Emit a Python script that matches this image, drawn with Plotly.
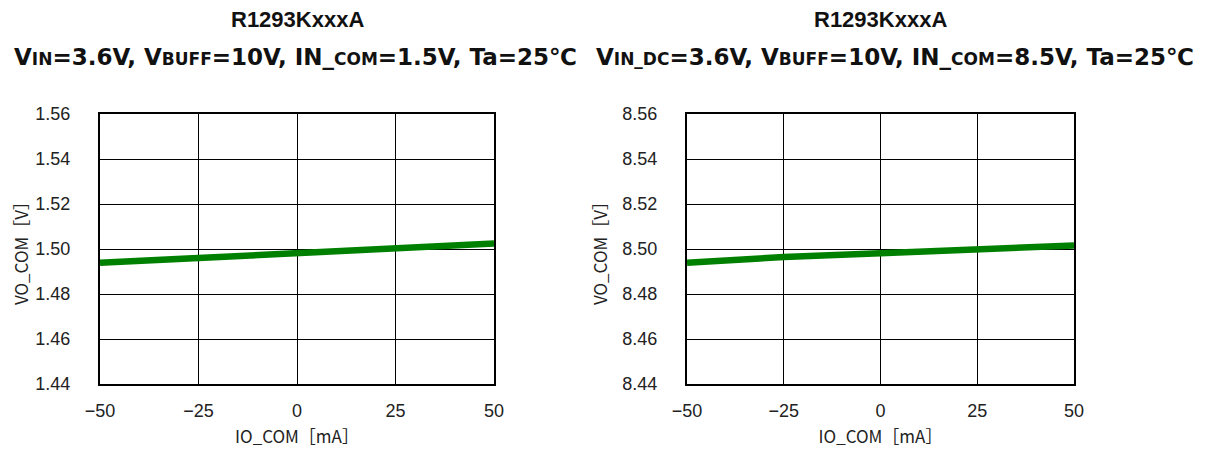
import plotly.graph_objects as go

io_com = [-50, -25, 0, 25, 50]
vo_left = [1.4939, 1.4959, 1.4982, 1.4999, 1.5024]
vo_right = [8.4939, 8.4964, 8.4981, 8.4999, 8.5016]

x_ticks = [-50, -25, 0, 25, 50]
x_ticktext = ["\u221250", "\u221225", "0", "25", "50"]
y_left_ticks = [1.44, 1.46, 1.48, 1.50, 1.52, 1.54, 1.56]
y_right_ticks = [8.44, 8.46, 8.48, 8.50, 8.52, 8.54, 8.56]

title_main = "R1293KxxxA"
S = "<span style='font-size:17px'>{}</span>"
title_left = "V" + S.format("IN") + "=3.6V, V" + S.format("BUFF") + "=10V, IN_" + S.format("COM") + "=1.5V, Ta=25\u2103"
title_right = "V" + S.format("IN_DC") + "=3.6V, V" + S.format("BUFF") + "=10V, IN_" + S.format("COM") + "=8.5V, Ta=25\u2103"
x_title = "IO_COM\uff3bmA\uff3d"
y_title = "VO_COM\uff3bV\uff3d"

OFF = 8  # page body margin
W, H = 1211 - 2 * OFF, 456 - 2 * OFF


def px(v):
    return (v - OFF) / W


def py(v):
    return 1 - (v - OFF) / H


fig = go.Figure()
fig.add_trace(go.Scatter(x=io_com, y=vo_left, mode="lines", line=dict(color="#008000", width=6.5),
                         xaxis="x", yaxis="y", showlegend=False))
fig.add_trace(go.Scatter(x=io_com, y=vo_right, mode="lines", line=dict(color="#008000", width=6.5),
                         xaxis="x2", yaxis="y2", showlegend=False))

ydom = [py(384), py(114)]
tickfont = dict(family="Liberation Sans, Arial", size=18, color="#222")
titlefont = dict(family="Noto Sans CJK JP, Liberation Sans", size=17, color="#222")


def xax(dom, anchor):
    return dict(domain=dom, anchor=anchor, range=[-50, 50], tickvals=x_ticks, ticktext=x_ticktext,
                showgrid=True, gridcolor="black", gridwidth=1, showline=True, linecolor="black",
                linewidth=2, mirror=True, ticks="", tickfont=tickfont, zeroline=False,
                ticklabelstandoff=9, automargin=False,
                title=dict(text=x_title, font=titlefont, standoff=16))


def yax(ticks, anchor):
    return dict(domain=ydom, anchor=anchor, range=[ticks[0], ticks[-1]], tickvals=ticks,
                ticktext=["%.2f" % t for t in ticks],
                showgrid=True, gridcolor="black", gridwidth=1, showline=True, linecolor="black",
                linewidth=2, mirror=True, ticks="", tickfont=tickfont, zeroline=False,
                ticklabelstandoff=24, automargin=False,
                title=dict(text=y_title, font=titlefont, standoff=10))


fig.update_layout(
    width=W, height=H, margin=dict(l=0, r=0, t=0, b=0),
    paper_bgcolor="white", plot_bgcolor="white",
    xaxis=xax([px(100), px(494)], "y"),
    yaxis=yax(y_left_ticks, "x"),
    xaxis2=xax([px(687), px(1074)], "y2"),
    yaxis2=yax(y_right_ticks, "x2"),
)

tf1 = dict(family="Liberation Sans, Arial", size=22, color="#111")
tf2 = dict(family="DejaVu Sans", size=23, color="#111")
for c1, c2, sub in [(297, 295, title_left), (880, 895, title_right)]:
    fig.add_annotation(x=px(c1), y=py(20), xref="paper", yref="paper",
                       text="<b>" + title_main + "</b>",
                       showarrow=False, font=tf1, xanchor="center", yanchor="middle")
    fig.add_annotation(x=px(c2), y=py(57), xref="paper", yref="paper", text="<b>" + sub + "</b>",
                       showarrow=False, font=tf2, xanchor="center", yanchor="middle")

fig.write_html("out.html")
